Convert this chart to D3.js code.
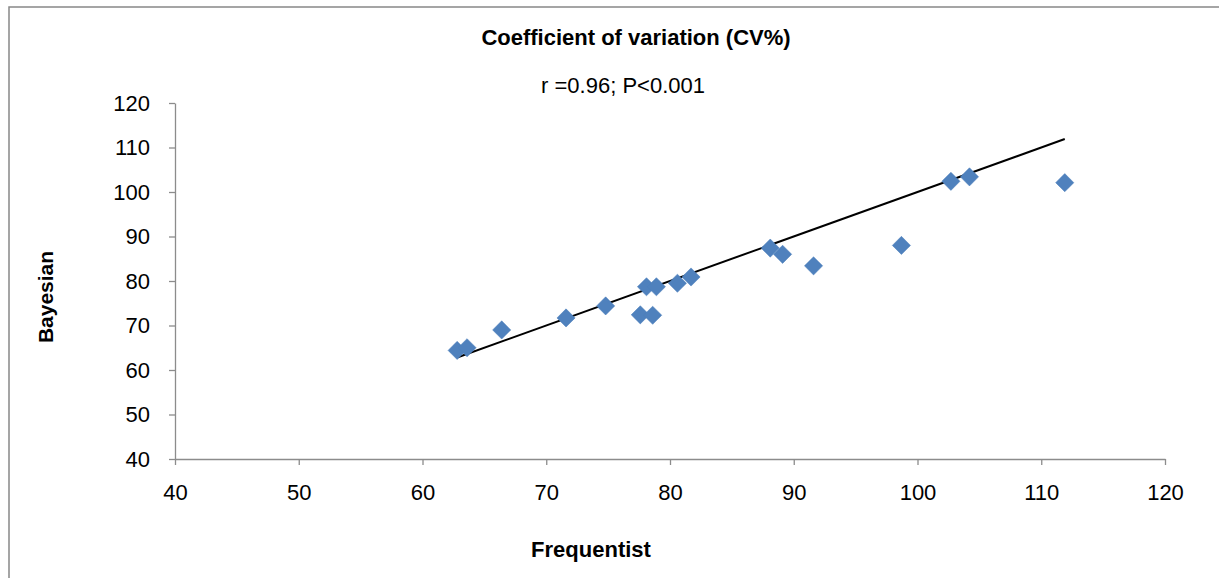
<!DOCTYPE html>
<html>
<head>
<meta charset="utf-8">
<script src="https://cdn.jsdelivr.net/npm/d3@7"></script>
<style>
  body { margin: 0; background: #fff; }
  svg { font-family: 'Liberation Sans', Arial, sans-serif; }
</style>
</head>
<body>
<div id="chart"></div>
<script>
const frequentist = [62.8, 63.6, 66.4, 71.6, 74.8, 77.6, 78.6, 78.1, 78.9, 80.6, 81.7, 88.1, 89.1, 91.6, 98.7, 102.7, 104.2, 111.9];
const bayesian    = [64.4, 65.0, 69.0, 71.7, 74.4, 72.4, 72.3, 78.7, 78.7, 79.5, 80.9, 87.4, 86.0, 83.4, 88.0, 102.4, 103.4, 102.1];
const xTicks = [40, 50, 60, 70, 80, 90, 100, 110, 120];
const yTicks = [40, 50, 60, 70, 80, 90, 100, 110, 120];

const width = 1219;
const height = 578;
const margin = {left: 175, right: 54, top: 103, bottom: 119};

const data = frequentist.map((f, i) => ({x: f, y: bayesian[i]}));

const xScale = d3.scaleLinear().domain([40, 120]).range([margin.left, width - margin.right]);
const yScale = d3.scaleLinear().domain([40, 120]).range([height - margin.bottom, margin.top]);

const svg = d3.select('#chart')
              .append('svg')
              .attr('width', width)
              .attr('height', height);

// outer chart frame (right/bottom edges fall outside the picture)
svg.append('rect')
   .attr('x', 9).attr('y', 7)
   .attr('width', width + 20).attr('height', height + 20)
   .style('fill', 'none')
   .style('stroke', '#888')
   .style('stroke-width', 1.5);

const xAxis = d3.axisBottom(xScale).tickValues(xTicks).tickSize(6).tickSizeOuter(0);
const yAxis = d3.axisLeft(yScale).tickValues(yTicks).tickSize(6).tickSizeOuter(0);

const gx = svg.append('g')
   .attr('transform', `translate(0, ${yScale(40)})`)
   .call(xAxis);
const gy = svg.append('g')
   .attr('transform', `translate(${xScale(40)}, 0)`)
   .call(yAxis);

[gx, gy].forEach(g => {
  g.select('.domain').style('stroke', '#8c8c8c').style('stroke-width', 1.3);
  g.selectAll('.tick line').style('stroke', '#8c8c8c').style('stroke-width', 1.3);
  g.selectAll('.tick text').style('font-size', '22px').style('fill', '#000');
});
gx.selectAll('.tick text').attr('dy', '1.45em');
gy.selectAll('.tick text').attr('x', -25);

// line of equality across the observed range
const xr = d3.extent(frequentist);
svg.append('line')
   .attr('x1', xScale(xr[0])).attr('y1', yScale(xr[0]))
   .attr('x2', xScale(xr[1])).attr('y2', yScale(xr[1]))
   .style('stroke', '#000')
   .style('stroke-width', 2);

const diamond = d3.symbol().type(d3.symbolSquare).size(165);
svg.selectAll('.dot')
   .data(data).enter()
   .append('path')
   .attr('class', 'dot')
   .attr('d', diamond)
   .attr('transform', d => `translate(${xScale(d.x)}, ${yScale(d.y)}) rotate(45)`)
   .style('fill', '#4f81bd')
   .style('stroke', '#4a7ebb')
   .style('stroke-width', 0.5);

svg.append('text')
   .attr('x', 636).attr('y', 45)
   .style('text-anchor', 'middle')
   .style('font-size', '22px')
   .style('font-weight', 'bold')
   .text('Coefficient of variation (CV%)');

svg.append('text')
   .attr('x', 623).attr('y', 93)
   .style('text-anchor', 'middle')
   .style('font-size', '22px')
   .text('r =0.96; P<0.001');

svg.append('text')
   .attr('transform', 'rotate(-90)')
   .attr('x', -297).attr('y', 53)
   .style('text-anchor', 'middle')
   .style('font-size', '21px')
   .style('font-weight', 'bold')
   .text('Bayesian');

svg.append('text')
   .attr('x', 591).attr('y', 557)
   .style('text-anchor', 'middle')
   .style('font-size', '22px')
   .style('font-weight', 'bold')
   .text('Frequentist');
</script>
</body>
</html>
